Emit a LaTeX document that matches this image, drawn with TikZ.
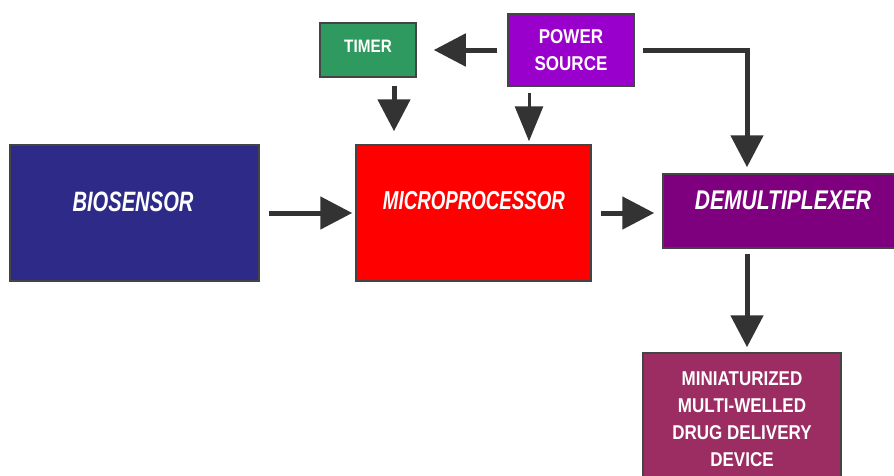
\documentclass[tikz,border=0pt]{standalone}
\usepackage{fontspec}
\usetikzlibrary{arrows.meta,calc}
\newfontfamily\wideitfont[FakeStretch=0.72]{Liberation Sans}
\newfontfamily\demuxfont[FakeStretch=0.78]{Liberation Sans}
\newfontfamily\smallfont[FakeStretch=0.85]{Liberation Sans}
\definecolor{arrgray}{HTML}{333333}
\definecolor{edgegray}{HTML}{444444}
\definecolor{bioblue}{HTML}{2E2B88}
\definecolor{microred}{HTML}{FF0000}
\definecolor{timergreen}{HTML}{2F9A5F}
\definecolor{powerpurple}{HTML}{9A00CC}
\definecolor{demuxpurple}{HTML}{7F007F}
\definecolor{miniwine}{HTML}{9B2D63}
\tikzset{
  blockbox/.style={rectangle, draw=edgegray, line width=1.5pt, inner sep=0pt},
  bigtext/.style={text=white, inner sep=0pt, font=\wideitfont\bfseries\itshape\fontsize{28}{30}\selectfont},
  smalltext/.style={text=white, inner sep=0pt, align=center, font=\smallfont\bfseries\fontsize{20}{27}\selectfont},
  arr/.style={line width=5pt, draw=arrgray, -{Triangle[length=32pt,width=32pt]}},
  thinarr/.style={line width=3pt, draw=arrgray, -{Triangle[length=35pt,width=28pt]}}
}
\begin{document}
\begin{tikzpicture}[x=1pt,y=-1pt]
\useasboundingbox (0,0) rectangle (894,475);
\clip (0,0) rectangle (894,475);
\node[blockbox, fill=bioblue, minimum width=249pt, minimum height=136pt] (bio) at (134.5,213) {};
\node[blockbox, fill=microred, minimum width=235pt, minimum height=136pt] (micro) at (473.5,213) {};
\node[blockbox, fill=timergreen, minimum width=96pt, minimum height=54pt] (timer) at (368,50) {};
\node[blockbox, fill=powerpurple, minimum width=126pt, minimum height=72pt] (power) at (571,50) {};
\node[blockbox, fill=demuxpurple, minimum width=237pt, minimum height=74pt] (demux) at (781.5,211) {};
\node[blockbox, fill=miniwine, minimum width=198pt, minimum height=137pt] (mini) at (742,421.5) {};

\node[bigtext] (biot) at (133,202) {BIOSENSOR};
\node[bigtext, font=\wideitfont\bfseries\itshape\fontsize{26}{28}\selectfont] (microt) at (474,201) {MICROPROCESSOR};
\node[bigtext, font=\demuxfont\bfseries\itshape\fontsize{27}{29}\selectfont] (demuxt) at (783,200) {DEMULTIPLEXER};
\node[smalltext, font=\smallfont\bfseries\fontsize{18}{24}\selectfont] (timert) at (368,46) {TIMER};
\node[smalltext] (powert) at (571,50) {POWER\\SOURCE};
\node[smalltext, anchor=north] (minit) at (742,372) {MINIATURIZED\\MULTI-WELLED\\DRUG DELIVERY\\DEVICE};

\draw[arr, shorten <=10pt, shorten >=17pt] (power.west) -- (timer.east);
\draw[arr, shorten <=8pt, shorten >=13pt] ([xshift=26pt]timer.south) -- ([xshift=26pt]timer.south |- micro.north);
\draw[thinarr, shorten <=6pt, shorten >=3pt] ([xshift=-42pt]power.south) -- ([xshift=-42pt]power.south |- micro.north);
\draw[arr, shorten <=8pt, shorten >=6pt] (power.east) -| ([xshift=-34.5pt]demux.north);
\draw[arr, shorten <=9pt, shorten >=3pt] (bio.east) -- (micro.west);
\draw[arr, shorten <=9pt, shorten >=8pt] (micro.east) -- (micro.east -| demux.west);
\draw[arr, shorten <=5pt, shorten >=5pt] ([xshift=-34.5pt]demux.south) -- ([xshift=-34.5pt]demux.south |- mini.north);
\end{tikzpicture}
\end{document}
